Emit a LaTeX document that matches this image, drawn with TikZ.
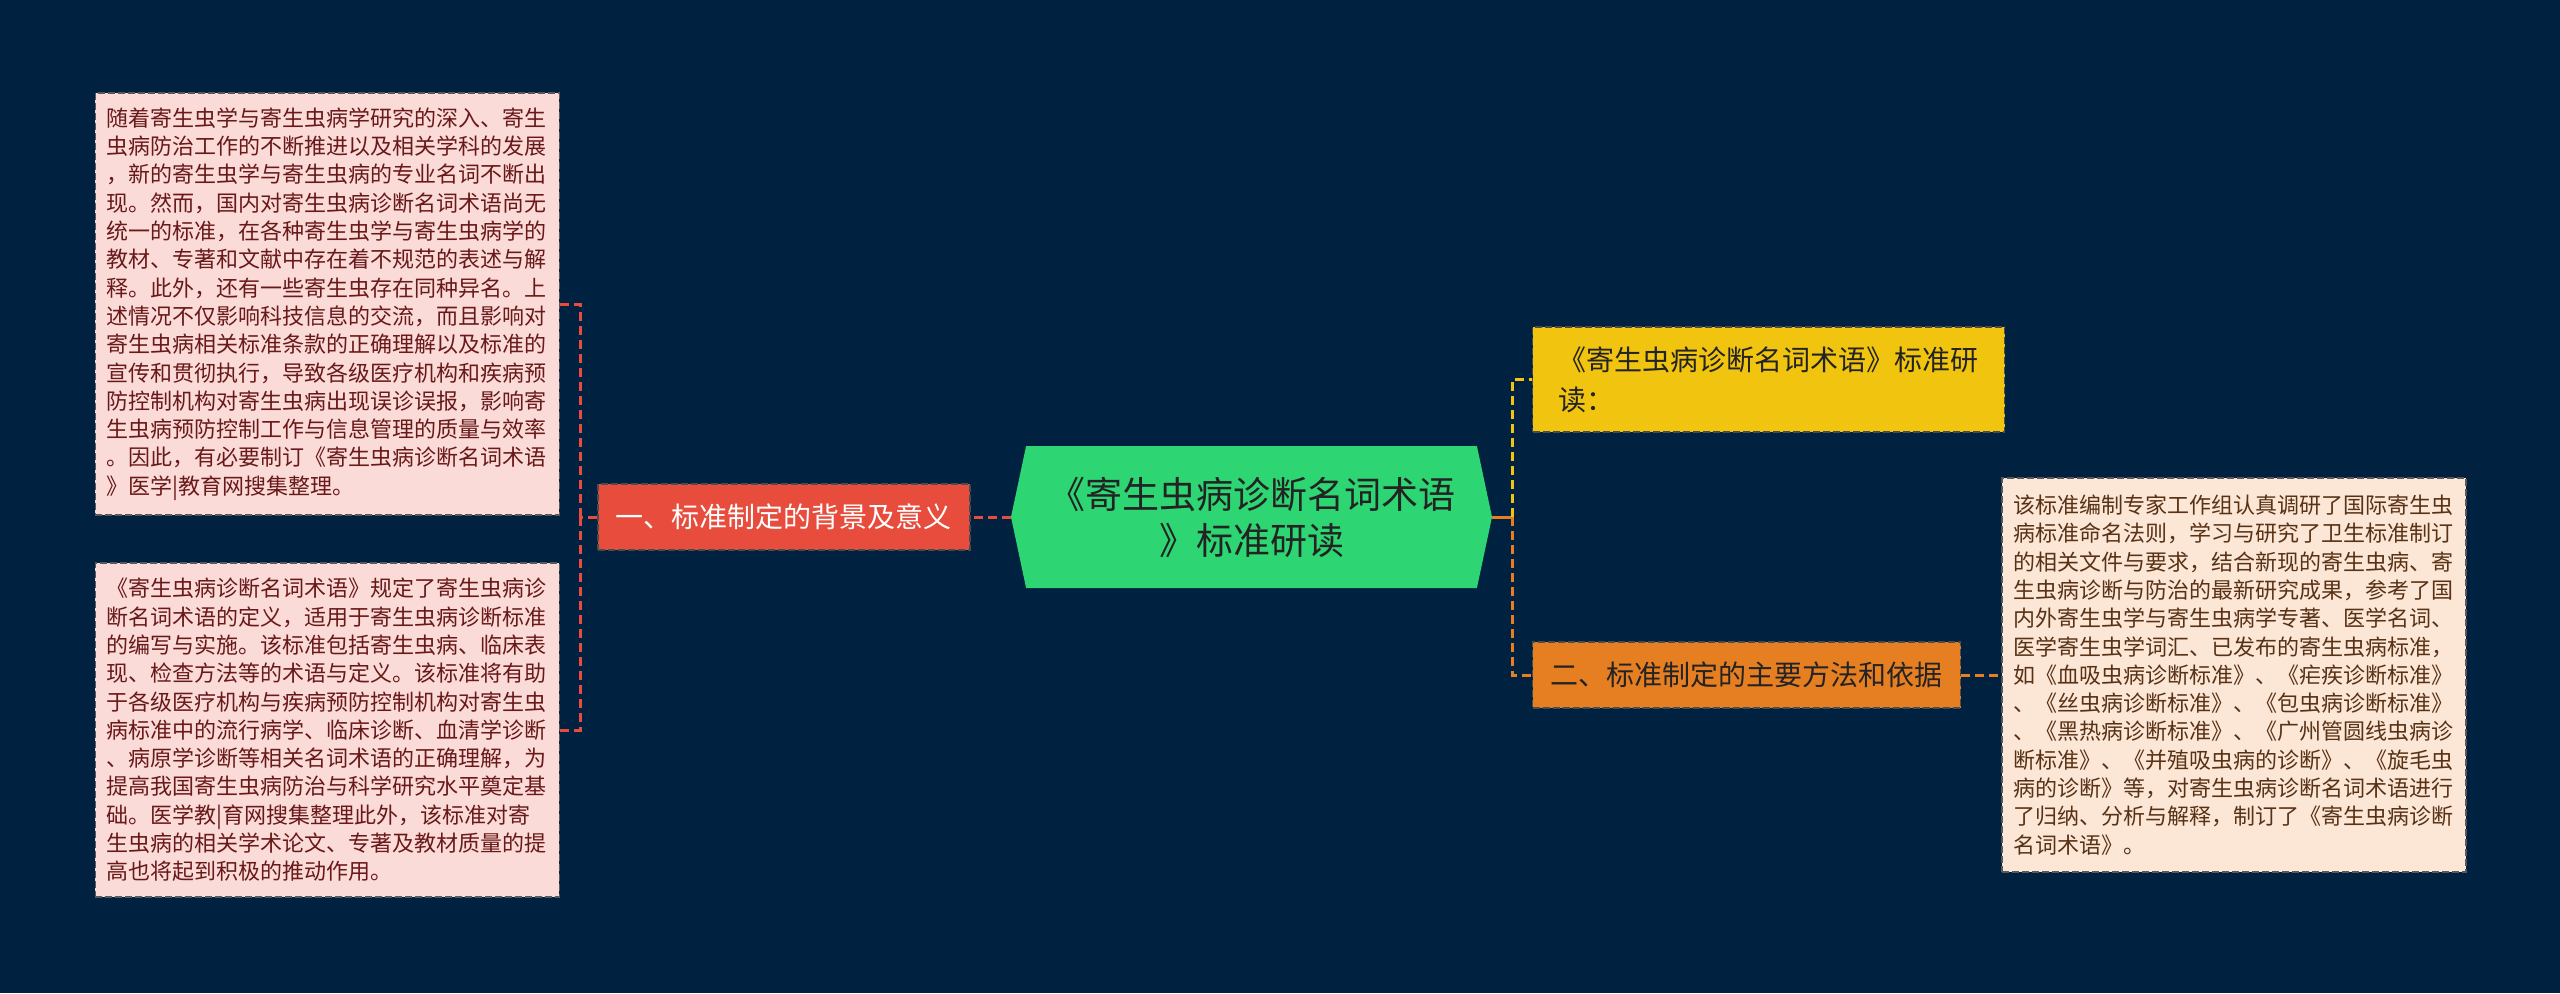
\documentclass[tikz,border=0pt]{standalone}
\usepackage{fontspec}
\setmainfont{Noto Sans CJK SC}
\usetikzlibrary{positioning,shapes.symbols}
\definecolor{NightBlue}{RGB}{0,33,64}
\definecolor{LeafPink}{RGB}{250,219,216}
\definecolor{LeafPeach}{RGB}{252,230,213}
\definecolor{RootGreen}{RGB}{46,213,115}
\definecolor{TopicRed}{RGB}{231,76,60}
\definecolor{TopicYellow}{RGB}{241,196,15}
\definecolor{TopicOrange}{RGB}{230,126,34}
\definecolor{InkRed}{RGB}{105,25,25}
\definecolor{InkBrown}{RGB}{88,50,22}
\definecolor{InkDark}{RGB}{35,35,35}
\tikzset{
  rootnode/.style={shape=signal, signal to=west and east, signal pointer angle=156,
    fill=RootGreen, text=InkDark, minimum width=240.5pt, minimum height=71pt,
    inner sep=0pt, align=center, font=\fontsize{18.5}{23}\selectfont},
  topic/.style={draw=black!70, dash pattern=on 3.5pt off 1.5pt, line width=0.7pt,
    minimum height=33pt, inner xsep=9pt, align=left,
    font=\fontsize{14}{20}\selectfont},
  leaf/.style={draw=black!65, dash pattern=on 3.5pt off 1.5pt, line width=0.6pt,
    text width=221pt, inner xsep=5.5pt, align=left,
    font=\fontsize{11}{14.15}\selectfont},
  redlink/.style={TopicRed, line width=1.5pt, dash pattern=on 4.5pt off 2.5pt},
  orangelink/.style={TopicOrange, line width=1.5pt, dash pattern=on 4.5pt off 2.5pt},
  yellowlink/.style={TopicYellow, line width=1.5pt, dash pattern=on 4.5pt off 2.5pt}
}
\begin{document}
\begin{tikzpicture}[x=0.5pt,y=-0.5pt]
\fill[NightBlue] (0,0) rectangle (2560,993);
\useasboundingbox (0,0) rectangle (2560,993);

% centre and first level
\node[rootnode] (root) at (1251.5,517) {《寄生虫病诊断名词术语\\》标准研读};
\node[topic, fill=TopicRed, text=white, left=20pt of root] (sec1) {一、标准制定的背景及意义};
\node[topic, fill=TopicYellow, text=InkDark, anchor=west, text width=210pt,
  inner xsep=13pt, minimum height=52.5pt] (title) at (1532,379.5)
  {《寄生虫病诊断名词术语》标准研\\读：};
\node[topic, fill=TopicOrange, text=InkDark, anchor=west] (sec2) at (1532,675)
  {二、标准制定的主要方法和依据};

% leaves
\node[leaf, fill=LeafPink, text=InkRed, anchor=east, minimum height=211pt] (bg1) at (560,304)
  {随着寄生虫学与寄生虫病学研究的深入、寄生\\
   虫病防治工作的不断推进以及相关学科的发展\\
   ，新的寄生虫学与寄生虫病的专业名词不断出\\
   现。然而，国内对寄生虫病诊断名词术语尚无\\
   统一的标准，在各种寄生虫学与寄生虫病学的\\
   教材、专著和文献中存在着不规范的表述与解\\
   释。此外，还有一些寄生虫存在同种异名。上\\
   述情况不仅影响科技信息的交流，而且影响对\\
   寄生虫病相关标准条款的正确理解以及标准的\\
   宣传和贯彻执行，导致各级医疗机构和疾病预\\
   防控制机构对寄生虫病出现误诊误报，影响寄\\
   生虫病预防控制工作与信息管理的质量与效率\\
   。因此，有必要制订《寄生虫病诊断名词术语\\
   》医学|教育网搜集整理。};
\node[leaf, fill=LeafPink, text=InkRed, anchor=east, minimum height=167pt] (bg2) at (560,730)
  {《寄生虫病诊断名词术语》规定了寄生虫病诊\\
   断名词术语的定义，适用于寄生虫病诊断标准\\
   的编写与实施。该标准包括寄生虫病、临床表\\
   现、检查方法等的术语与定义。该标准将有助\\
   于各级医疗机构与疾病预防控制机构对寄生虫\\
   病标准中的流行病学、临床诊断、血清学诊断\\
   、病原学诊断等相关名词术语的正确理解，为\\
   提高我国寄生虫病防治与科学研究水平奠定基\\
   础。医学教|育网搜集整理此外，该标准对寄\\
   生虫病的相关学术论文、专著及教材质量的提\\
   高也将起到积极的推动作用。};
\node[leaf, fill=LeafPeach, text=InkBrown, right=20pt of sec2, minimum height=197pt] (note)
  {该标准编制专家工作组认真调研了国际寄生虫\\
   病标准命名法则，学习与研究了卫生标准制订\\
   的相关文件与要求，结合新现的寄生虫病、寄\\
   生虫病诊断与防治的最新研究成果，参考了国\\
   内外寄生虫学与寄生虫病学专著、医学名词、\\
   医学寄生虫学词汇、已发布的寄生虫病标准，\\
   如《血吸虫病诊断标准》、《疟疾诊断标准》\\
   、《丝虫病诊断标准》、《包虫病诊断标准》\\
   、《黑热病诊断标准》、《广州管圆线虫病诊\\
   断标准》、《并殖吸虫病的诊断》、《旋毛虫\\
   病的诊断》等，对寄生虫病诊断名词术语进行\\
   了归纳、分析与解释，制订了《寄生虫病诊断\\
   名词术语》。};

% connectors
\coordinate (lfork) at (580,517);
\coordinate (rfork) at (1512,517);
\draw[redlink] (root.west) -- (sec1.east);
\draw[redlink] (sec1.west) -- (lfork);
\draw[redlink] (lfork) |- (bg1.east);
\draw[redlink] (lfork) |- (bg2.east);
\draw[orangelink, solid] (root.east) -- (rfork);
\draw[yellowlink] (rfork) |- (title.west);
\draw[orangelink] (rfork) |- (sec2.west);
\draw[orangelink] (sec2.east) -- (note.west);
\end{tikzpicture}
\end{document}
